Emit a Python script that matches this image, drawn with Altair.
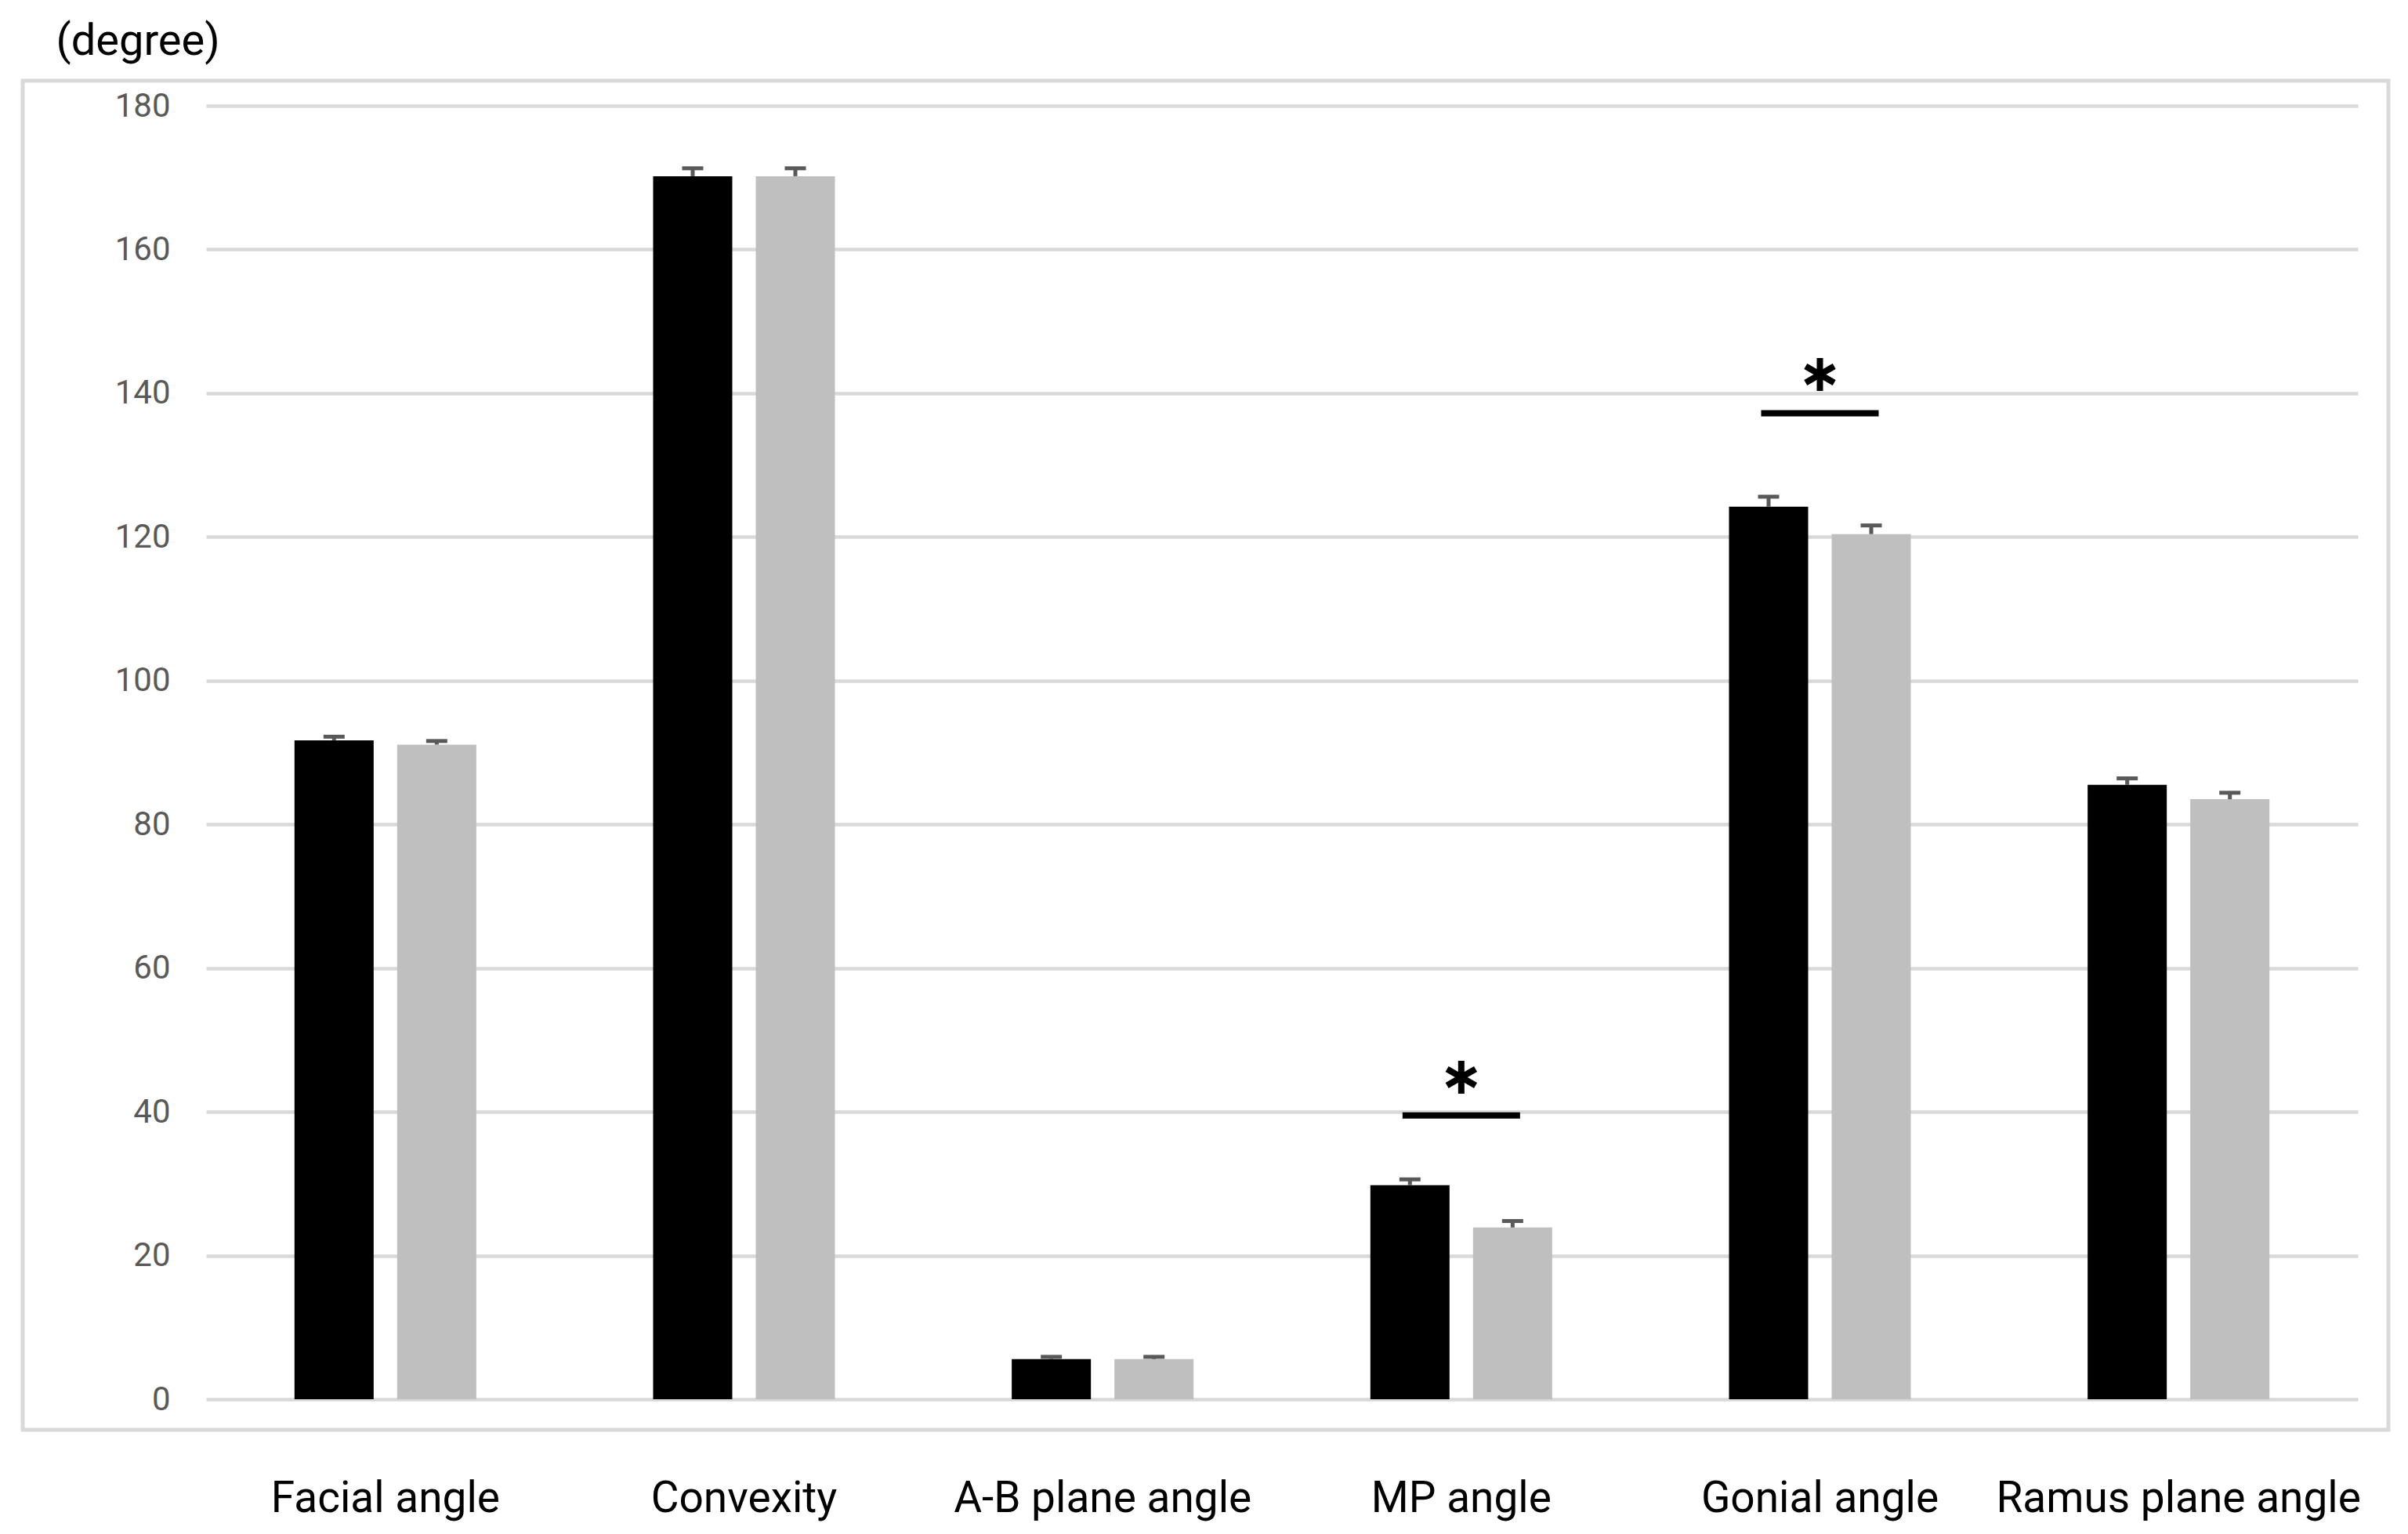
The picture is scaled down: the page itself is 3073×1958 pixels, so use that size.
import altair as alt
import pandas as pd

categories = ["Facial angle", "Convexity", "A-B plane angle", "MP angle", "Gonial angle", "Ramus plane angle"]
groups = ["Group 1", "Group 2"]
g1_mean = [91.7, 170.2, 5.6, 29.8, 124.2, 85.5]
g1_err = [0.5, 1.1, 0.3, 0.8, 1.4, 0.9]
g2_mean = [91.1, 170.2, 5.6, 23.9, 120.4, 83.5]
g2_err = [0.5, 1.1, 0.3, 0.9, 1.2, 0.9]

sig_categories = ["MP angle", "Gonial angle"]
sig_line = [39.5, 137.2]
sig_star = [44.8, 142.6]

y_ticks = list(range(0, 181, 20))

rows = []
for i, c in enumerate(categories):
    rows.append({"cat": c, "grp": groups[0], "mean": g1_mean[i], "top": g1_mean[i] + g1_err[i]})
    rows.append({"cat": c, "grp": groups[1], "mean": g2_mean[i], "top": g2_mean[i] + g2_err[i]})
df = pd.DataFrame(rows)
sig_df = pd.DataFrame({"cat": sig_categories, "line": sig_line, "star": sig_star})

FONT = "Roboto"
W, H = 2746, 1651

x_enc = alt.X(
    "cat:N",
    sort=categories,
    scale=alt.Scale(paddingInner=0.493, paddingOuter=0.2465),
    axis=alt.Axis(
        title=None, labelAngle=0, labelFont=FONT, labelFontSize=55, labelColor="#000000",
        labelPadding=100, domain=False, ticks=False, labelLimit=1000,
    ),
)
xoff = alt.XOffset("grp:N", sort=groups, scale=alt.Scale(paddingInner=0.229, paddingOuter=0))
y_scale = alt.Scale(domain=[0, 180], nice=False)
y_axis = alt.Axis(
    values=y_ticks, domain=False, ticks=False, grid=True, gridColor="#d9d9d9", gridWidth=4.5,
    labelFont=FONT, labelFontSize=42, labelColor="#595959", labelPadding=46,
    title="(degree)", titleAngle=0, titleAlign="left", titleBaseline="middle",
    titleX=-192, titleY=-83, titleFont=FONT, titleFontSize=56, titleFontWeight="normal",
    titleColor="#000000",
)

frame = alt.Chart(alt.Data(values=[{"k": 1}])).mark_rect(
    filled=False, stroke="#d9d9d9", strokeWidth=5, fill="transparent"
).encode(x=alt.value(-234), x2=alt.value(2785), y=alt.value(-32), y2=alt.value(1690))

base = alt.Chart(df)

bars = base.mark_bar().encode(
    x=x_enc,
    xOffset=xoff,
    y=alt.Y("mean:Q", scale=y_scale, axis=y_axis),
    color=alt.Color("grp:N", scale=alt.Scale(domain=groups, range=["#000000", "#bfbfbf"]), legend=None),
)

err_rule = base.mark_rule(color="#595959", strokeWidth=5).encode(
    x=x_enc, xOffset=xoff, y=alt.Y("mean:Q", scale=y_scale), y2="top:Q"
)
err_cap = base.mark_tick(color="#595959", thickness=5, size=27, opacity=1).encode(
    x=x_enc, xOffset=xoff, y=alt.Y("top:Q", scale=y_scale)
)

sig = alt.Chart(sig_df)
sig_lines = sig.mark_tick(color="#000000", thickness=8, size=150, opacity=1).encode(
    x=x_enc, y=alt.Y("line:Q", scale=y_scale)
)
star_path = "M0,-1L0,1M-0.866,-0.5L0.866,0.5M-0.866,0.5L0.866,-0.5"
stars = sig.mark_point(
    shape=star_path, filled=False, stroke="#000000", strokeWidth=8, size=1764, opacity=1
).encode(x=x_enc, y=alt.Y("star:Q", scale=y_scale))

chart = alt.layer(frame, bars, err_rule, err_cap, sig_lines, stars).properties(
    width=W, height=H,
    autosize=alt.AutoSizeParams(type="none"),
    padding={"left": 255, "top": 127, "right": 50, "bottom": 162},
    background="#ffffff",
).configure_view(stroke=None)

chart.save("out.html", embed_options={"renderer": "svg", "actions": False})
